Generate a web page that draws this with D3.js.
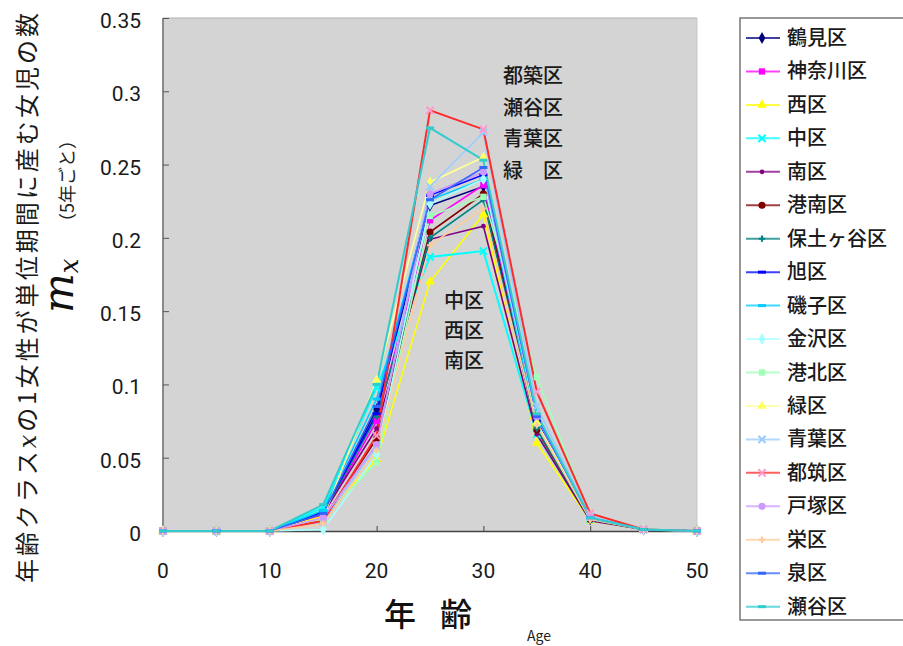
<!DOCTYPE html>
<html><head><meta charset="utf-8">
<script src="https://cdn.jsdelivr.net/npm/d3@7"></script>
<style>body{margin:0;background:#fff}svg{display:block}</style>
</head><body><svg id="c" width="903" height="646"></svg>
<script>
const ages = [0,5,10,15,20,25,30,35,40,45,50];
const xTicks = [0,10,20,30,40,50];
const yTicks = [0,0.05,0.1,0.15,0.2,0.25,0.3,0.35];
const districts = ["鶴見区","神奈川区","西区","中区","南区","港南区","保土ヶ谷区","旭区","磯子区","金沢区","港北区","緑区","青葉区","都筑区","戸塚区","栄区","泉区","瀬谷区"];
const tsurumi    = [0,0,0,0.013,0.083,0.222,0.235,0.072,0.008,0.001,0];
const kanagawa   = [0,0,0,0.011,0.075,0.212,0.236,0.074,0.008,0.001,0];
const nishi      = [0,0,0,0.010,0.049,0.170,0.216,0.060,0.007,0.001,0];
const naka       = [0,0,0,0.016,0.098,0.187,0.191,0.066,0.008,0.001,0];
const minami     = [0,0,0,0.012,0.070,0.199,0.208,0.066,0.007,0.001,0];
const konan      = [0,0,0,0.008,0.063,0.204,0.230,0.069,0.008,0.001,0];
const hodogaya   = [0,0,0,0.012,0.078,0.200,0.226,0.070,0.008,0.001,0];
const asahi      = [0,0,0,0.013,0.080,0.229,0.243,0.075,0.009,0.001,0];
const isogo      = [0,0,0,0.014,0.090,0.226,0.240,0.072,0.008,0.001,0];
const kanazawa   = [0,0,0,0.001,0.052,0.223,0.240,0.078,0.009,0.001,0];
const kohoku     = [0,0,0,0.008,0.047,0.215,0.228,0.105,0.010,0.001,0];
const midori     = [0,0,0,0.009,0.103,0.238,0.255,0.074,0.009,0.001,0];
const aoba       = [0,0,0,0.006,0.058,0.235,0.272,0.085,0.010,0.001,0];
const tsuzuki    = [0,0,0,0.007,0.065,0.287,0.274,0.095,0.012,0.001,0];
const totsuka    = [0,0,0,0.009,0.059,0.230,0.245,0.078,0.009,0.001,0];
const sakae      = [0,0,0,0.005,0.055,0.195,0.220,0.072,0.008,0.001,0];
const izumi      = [0,0,0,0.012,0.085,0.226,0.248,0.078,0.009,0.001,0];
const seya       = [0,0,0,0.018,0.100,0.275,0.253,0.080,0.009,0.001,0];
const seriesValues = [tsurumi,kanagawa,nishi,naka,minami,konan,hodogaya,asahi,isogo,kanazawa,kohoku,midori,aoba,tsuzuki,totsuka,sakae,izumi,seya];
const annotTop = ["都築区","瀬谷区","青葉区","緑　区"];
const annotMid = ["中区","西区","南区"];

const lineColors = ["#000080","#ff00ff","#ffff00","#00ffff","#800080","#800000","#008080","#0000ff","#00ccff","#a8ffff","#a0ffb8","#ffff99","#99ccff","#ff2a2a","#cc99ff","#ffcc99","#3366ff","#33cccc"];
const markColors = ["#000080","#ff00ff","#ffff00","#00ffff","#800080","#800000","#008080","#0000ff","#00ccff","#a8ffff","#a0ffb8","#ffff66","#99ccff","#ff99cc","#cc99ff","#ffcc99","#3366ff","#33cccc"];
const markShapes = ["diamond","square","triangle","times","circleS","circle","plus","dash","dash","diamond","square","triangle","times","times","circle","plus","dash","dash"];

const svg = d3.select("#c");
const L=163,T=18,R=697,B=531;
const x = d3.scaleLinear().domain([0,50]).range([L,R]);
const y = d3.scaleLinear().domain([0,0.35]).range([B,T]);
const num = "Roboto, 'Liberation Sans', Arial, sans-serif";

svg.append("rect").attr("x",L).attr("y",T).attr("width",R-L).attr("height",B-T).attr("fill","#d4d4d4");
svg.append("line").attr("x1",L).attr("x2",L).attr("y1",T).attr("y2",B).attr("stroke","#8a8a8a").attr("stroke-width",2);
svg.append("line").attr("x1",L).attr("x2",R).attr("y1",T).attr("y2",T).attr("stroke","#b0b0b0").attr("stroke-width",1);
svg.append("line").attr("x1",R).attr("x2",R).attr("y1",T).attr("y2",B).attr("stroke","#c8c8c8").attr("stroke-width",1);

const yAxis = svg.append("g").attr("transform",`translate(${L},0)`)
  .call(d3.axisRight(y).tickValues(yTicks).tickSize(6).tickFormat(d=>""));
yAxis.select(".domain").remove();
yAxis.selectAll("line").attr("stroke","#555");
svg.selectAll(".ylab").data(yTicks).enter().append("text")
  .attr("x",141).attr("y",d=>y(d)+10).attr("text-anchor","end")
  .attr("font-family",num).attr("font-size",21).attr("fill","#1a1a1a")
  .text(d=>d3.format("")(d));

const xAxis = svg.append("g").attr("transform",`translate(0,${B})`)
  .call(d3.axisTop(x).tickValues(xTicks).tickSize(5).tickFormat(d=>""));
xAxis.select(".domain").attr("stroke","#444").attr("stroke-width",1.5);
xAxis.selectAll("line").attr("stroke","#444");
svg.selectAll(".xlab").data(xTicks).enter().append("text")
  .attr("x",d=>x(d)).attr("y",578).attr("text-anchor","middle")
  .attr("font-family",num).attr("font-size",21).attr("fill","#1a1a1a")
  .text(d=>d);

const line = d3.line().x((d,i)=>x(ages[i])).y(d=>y(d));
function drawMarker(g, shape, color, cx, cy){
  const s = {diamond:d3.symbolDiamond,square:d3.symbolSquare,triangle:d3.symbolTriangle,circle:d3.symbolCircle,circleS:d3.symbolCircle,plus:d3.symbolCross};
  if(shape==="times"){
    g.append("path").attr("d",d3.symbol(d3.symbolTimes,36)()).attr("transform",`translate(${cx},${cy})`).attr("fill","none").attr("stroke",color).attr("stroke-width",2);
  } else if(shape==="dash"){
    g.append("line").attr("x1",cx-4).attr("x2",cx+4).attr("y1",cy).attr("y2",cy).attr("stroke",color).attr("stroke-width",3);
  } else {
    const size = shape==="circleS"?18:shape==="plus"?22:40;
    g.append("path").attr("d",d3.symbol(s[shape],size)()).attr("transform",`translate(${cx},${cy})`).attr("fill",color);
  }
}
const plot = svg.append("g");
seriesValues.forEach((vals,k)=>{
  plot.append("path").datum(vals).attr("d",line).attr("fill","none")
    .attr("stroke",lineColors[k]).attr("stroke-width",k===13||k===17||k===3?2:1.6);
});
seriesValues.forEach((vals,k)=>{
  const g = plot.append("g");
  vals.forEach((v,i)=>drawMarker(g,markShapes[k],markColors[k],x(ages[i]),y(v)));
});

const jp = "'Noto Sans CJK JP', sans-serif";
svg.selectAll(".at").data(annotTop).enter().append("text")
  .attr("x",503).attr("y",(d,i)=>83+i*31.5).attr("font-family",jp).attr("font-size",20).attr("font-weight",500).attr("fill","#1a1a1a").text(d=>d);
svg.selectAll(".am").data(annotMid).enter().append("text")
  .attr("x",444).attr("y",(d,i)=>308+i*30).attr("font-family",jp).attr("font-size",20).attr("font-weight",500).attr("fill","#1a1a1a").text(d=>d);

// legend
svg.append("rect").attr("x",740).attr("y",18).attr("width",175).attr("height",602)
  .attr("fill","#fff").attr("stroke","#777").attr("stroke-width",1.5);
districts.forEach((name,k)=>{
  const cy = 38 + k*33.45;
  const g = svg.append("g");
  g.append("line").attr("x1",746).attr("x2",780).attr("y1",cy).attr("y2",cy)
    .attr("stroke",lineColors[k]).attr("stroke-width",2).attr("stroke-opacity",0.75);
  drawMarker(g,markShapes[k],markColors[k],762,cy);
  g.append("text").attr("x",787).attr("y",cy+7).attr("font-family",jp).attr("font-size",20).attr("font-weight",500)
    .attr("fill","#1a1a1a").text(name);
});

// axis titles
svg.append("text").attr("x",384).attr("y",626).attr("font-family",jp).attr("font-size",32).attr("font-weight",500).attr("fill","#111").text("年");
svg.append("text").attr("x",440).attr("y",626).attr("font-family",jp).attr("font-size",32).attr("font-weight",500).attr("fill","#111").text("齢");
svg.append("text").attr("x",527).attr("y",641).attr("font-family",jp).attr("font-size",14).attr("fill","#222").text("Age");

const yt = svg.append("text").attr("transform","translate(36,298) rotate(-90)")
  .attr("text-anchor","middle").attr("font-family",jp).attr("font-size",24).attr("fill","#1a1a1a")
  .attr("textLength",570).attr("lengthAdjust","spacing");
yt.append("tspan").text("年齢クラス");
yt.append("tspan").attr("font-family","'DejaVu Serif', serif").attr("font-style","italic").text("x");
yt.append("tspan").text("の1女性が単位期間に産む女児の数");

const mx = svg.append("text").attr("transform","translate(73,313) rotate(-90)")
  .attr("font-family","'DejaVu Serif','Liberation Serif', serif").attr("font-style","italic").attr("fill","#111");
mx.append("tspan").attr("font-size",42).text("m");
mx.append("tspan").attr("font-size",26).attr("dy",5).text("x");

svg.append("text").attr("transform","translate(74,231) rotate(-90)")
  .attr("font-family",jp).attr("font-size",18).attr("fill","#222").text("（5年ごと）");
</script></body></html>
